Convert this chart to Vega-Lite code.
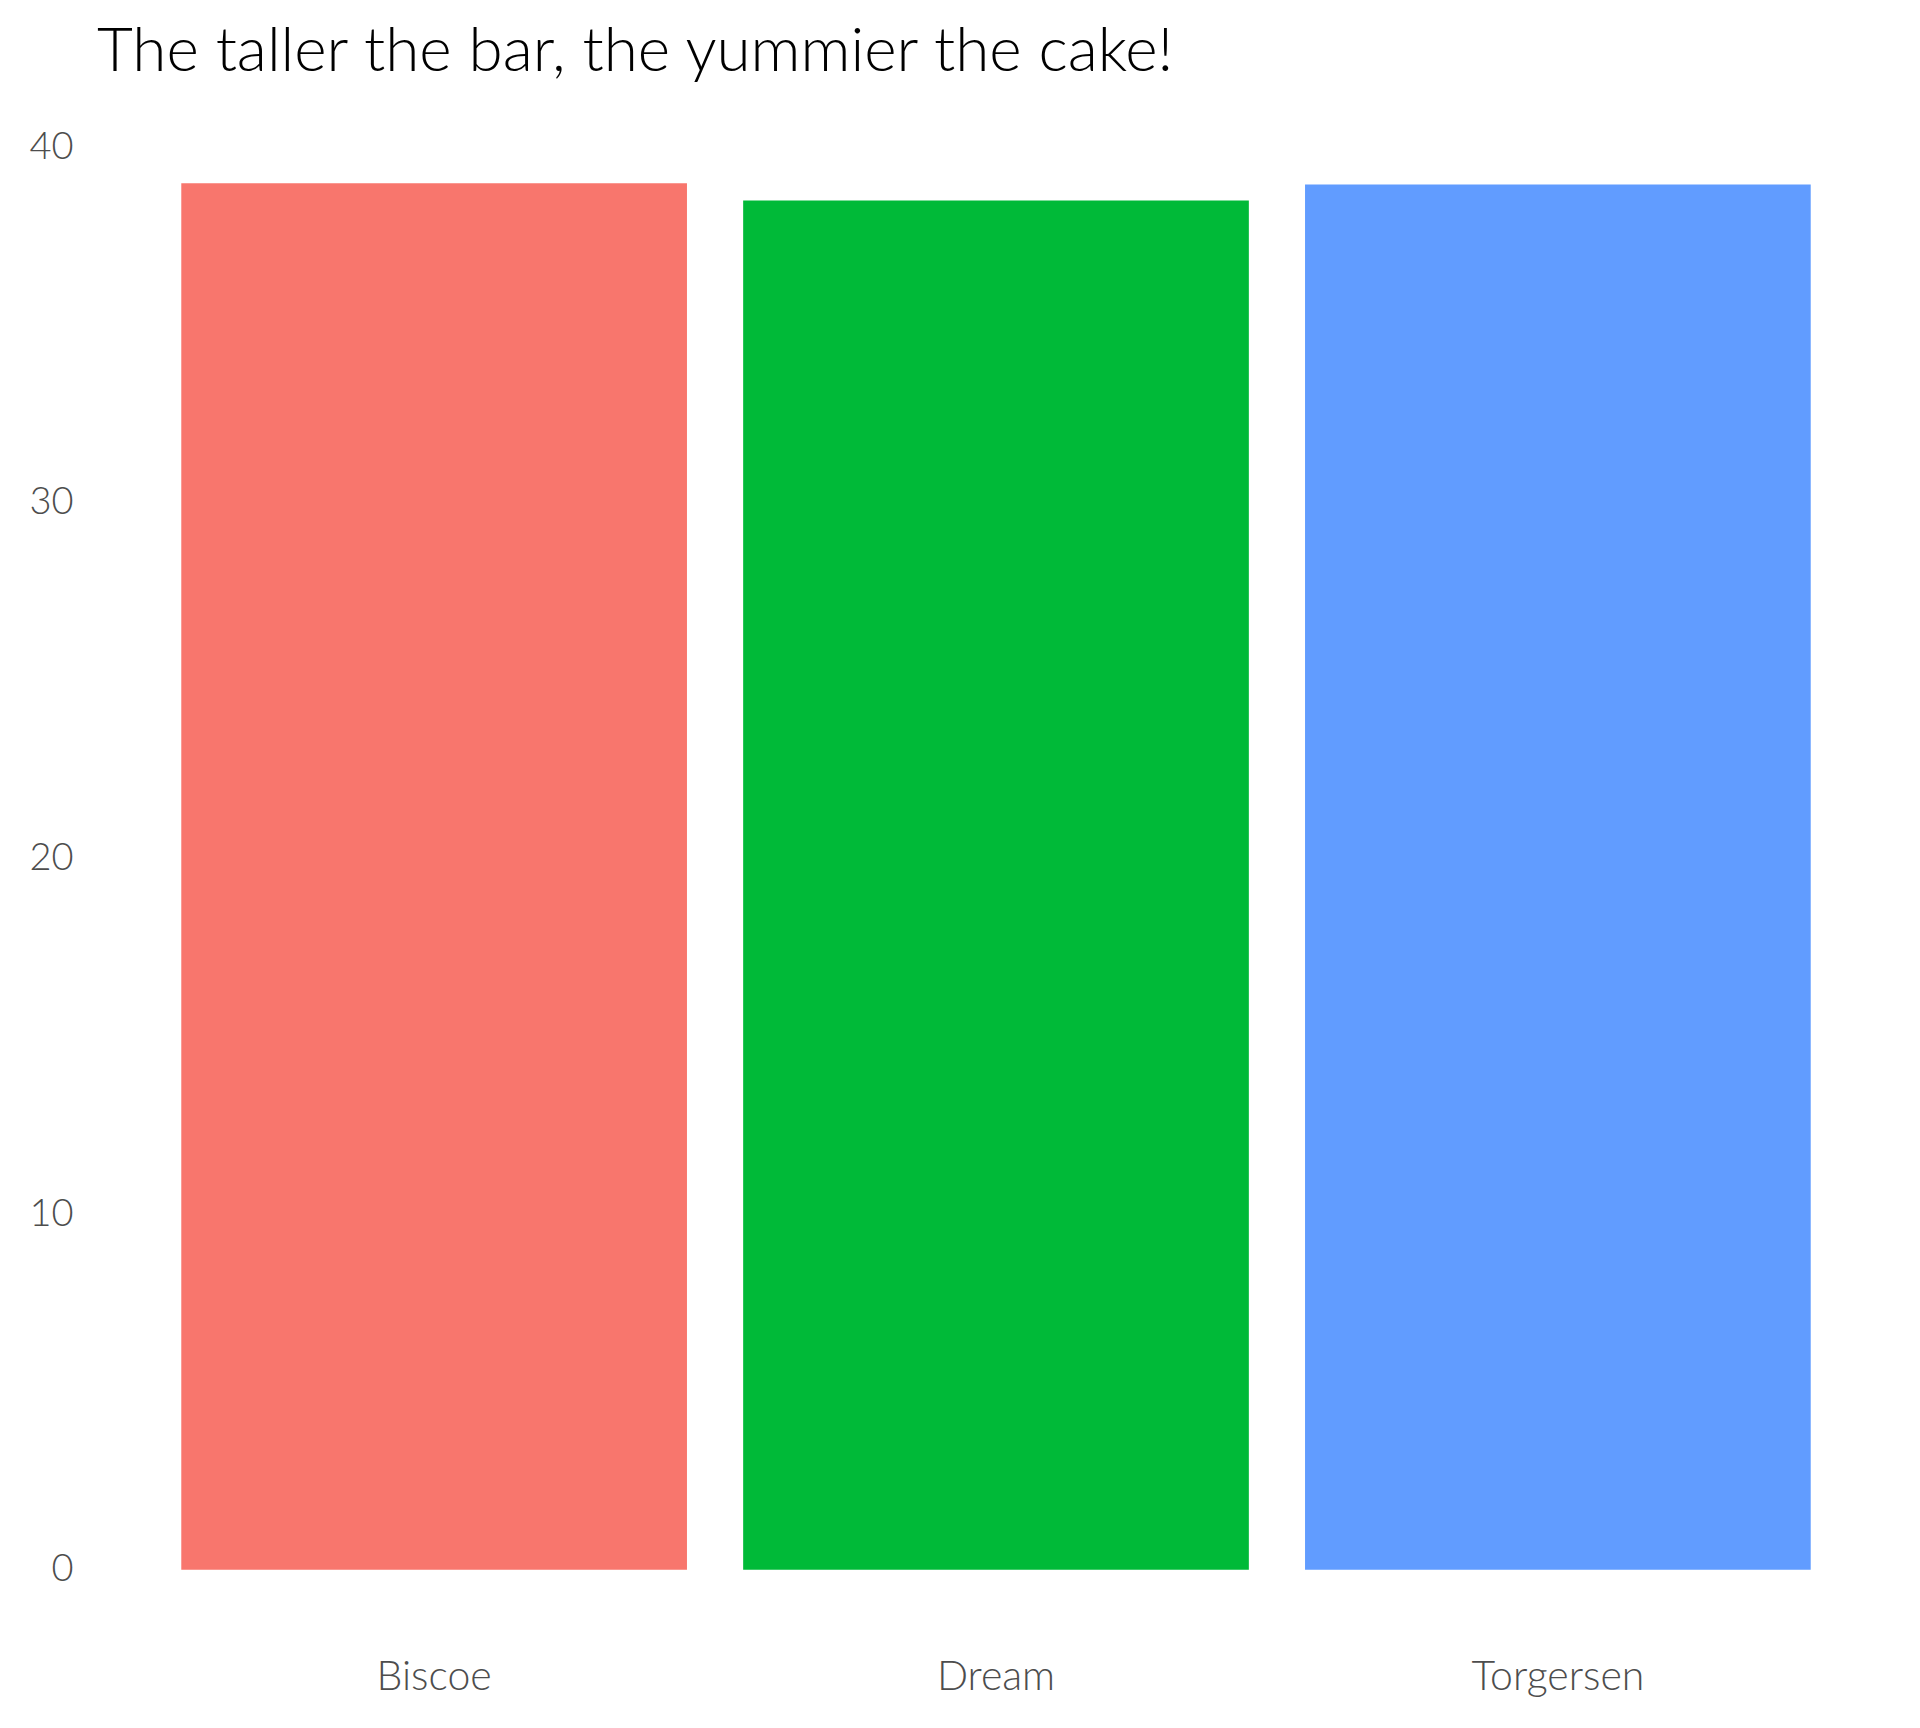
{
  "$schema": "https://vega.github.io/schema/vega-lite/v6.json",
  "autosize": "none",
  "width": 1798,
  "height": 1525,
  "padding": {"left": 97, "top": 114, "right": 25, "bottom": 89},
  "background": "white",
  "title": {
    "text": "The taller the bar, the yummier the cake!",
    "anchor": "start",
    "frame": "group",
    "font": "Lato",
    "fontWeight": 300,
    "fontSize": 62,
    "color": "black",
    "baseline": "alphabetic",
    "offset": -19
  },
  "data": {
    "values": [
      {"island": "Biscoe", "bill_length": 38.98},
      {"island": "Dream", "bill_length": 38.50},
      {"island": "Torgersen", "bill_length": 38.95}
    ]
  },
  "mark": {"type": "bar"},
  "encoding": {
    "x": {
      "field": "island",
      "type": "nominal",
      "scale": {"paddingInner": 0.1, "paddingOuter": 0.15},
      "axis": {
        "title": null,
        "labelAngle": 0,
        "labelFont": "Lato",
        "labelFontWeight": 300,
        "labelFontSize": 41,
        "labelColor": "#4D4D4D",
        "labelPadding": 18,
        "domain": false,
        "ticks": false,
        "grid": false
      }
    },
    "y": {
      "field": "bill_length",
      "type": "quantitative",
      "scale": {"domain": [-1.95, 40.93], "nice": false, "zero": false},
      "axis": {
        "title": null,
        "values": [0, 10, 20, 30, 40],
        "labelFont": "Lato",
        "labelFontWeight": 300,
        "labelFontSize": 38,
        "labelColor": "#4D4D4D",
        "labelPadding": 24,
        "domain": false,
        "ticks": false,
        "grid": false
      }
    },
    "y2": {"datum": 0},
    "color": {
      "field": "island",
      "type": "nominal",
      "scale": {"domain": ["Biscoe", "Dream", "Torgersen"], "range": ["#F8766D", "#00BA38", "#619CFF"]},
      "legend": null
    }
  },
  "config": {"view": {"stroke": null}}
}
